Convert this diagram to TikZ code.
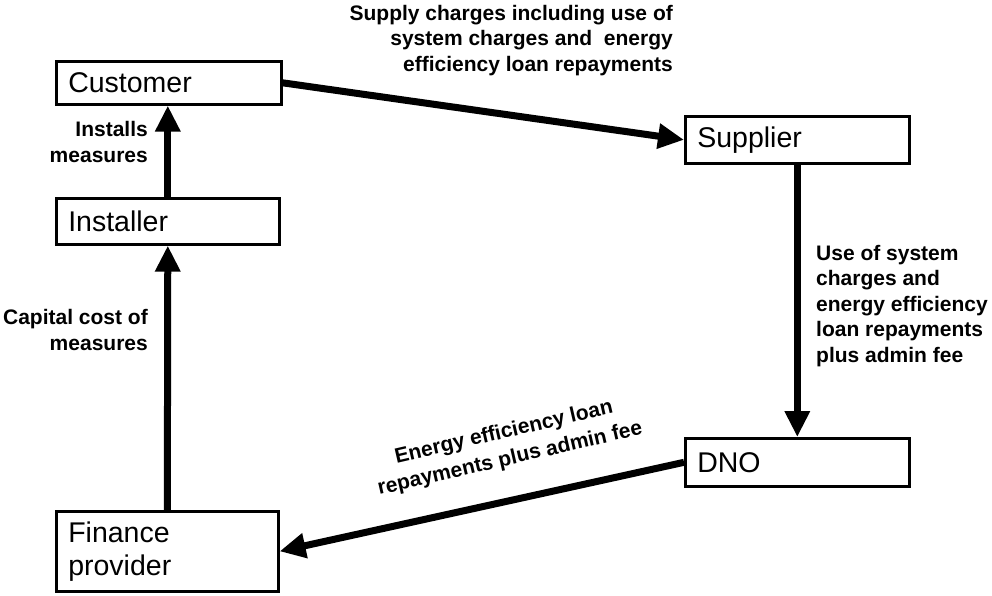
\documentclass[tikz,border=0pt]{standalone}
\usepackage{fontspec}
\setmainfont{Liberation Sans}
\usetikzlibrary{arrows.meta}
\begin{document}
\begin{tikzpicture}[x=1pt,y=-1pt,
  box/.style={draw, line width=2.6pt, fill=white, inner xsep=12pt, inner ysep=0pt,
    align=left, anchor=north west, font=\fontsize{28.5}{33}\selectfont},
  flow/.style={line width=7pt, -{Triangle[length=26pt,width=24pt]}},
  lbl/.style={font=\bfseries\fontsize{21}{25.5}\selectfont, inner sep=0pt}]
\useasboundingbox (0,0) rectangle (992,595);

% parties
\node[box, minimum width=225pt, minimum height=43pt, text width=201pt] (cust) at (55,60) {Customer};
\node[box, minimum width=223pt, minimum height=46pt, text width=199pt] (inst) at (55,197) {Installer};
\node[box, minimum width=222pt, minimum height=80pt, text width=198pt] (fin) at (55,510) {Finance\\provider};
\node[box, minimum width=224pt, minimum height=47pt, text width=200pt] (sup) at (684,115) {Supplier};
\node[box, minimum width=224pt, minimum height=48pt, text width=200pt] (dno) at (684,437) {DNO};

% money and work flows
\draw[flow] (cust.east) -- (sup.west);
\draw[flow] (sup.south) -- (dno.north);
\draw[flow] (dno.west) -- (fin.east);
\draw[flow] (fin.north) -- (inst.south);
\draw[flow] (inst.north) -- (inst.north |- cust.south);

% flow labels
\node[lbl, align=right, anchor=north east] (lsup) at (673,5)
  {Supply charges including use of\\system charges and\ \ energy\\efficiency loan repayments};
\node[lbl, align=left, anchor=west] (ldno) at (816,306)
  {Use of system\\charges and\\energy efficiency\\loan repayments\\plus admin fee};
\node[lbl, align=center, rotate=13, font=\bfseries\fontsize{21}{27}\selectfont] (lfin) at (507,446)
  {Energy efficiency loan\\repayments plus admin fee};
\node[lbl, align=right, anchor=east] (lcap) at (148,330) {Capital cost of\\measures};
\node[lbl, align=right, anchor=east] (linst) at (148,142) {Installs\\measures};
\end{tikzpicture}
\end{document}
